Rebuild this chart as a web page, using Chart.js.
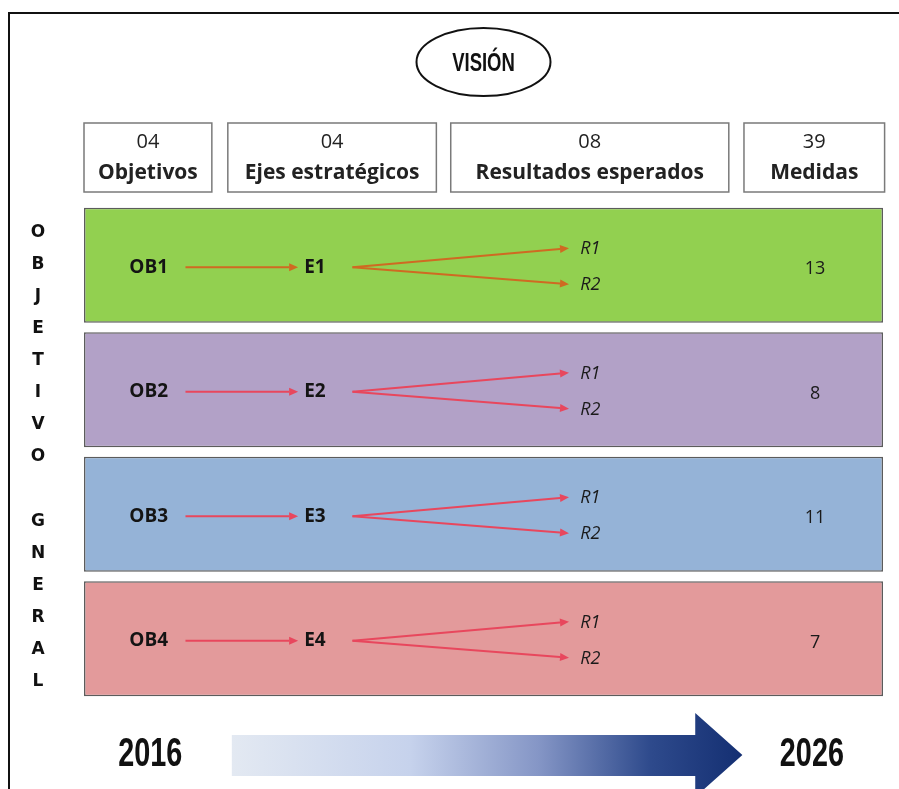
<!DOCTYPE html>
<html>
<head>
<meta charset="utf-8">
<script src="https://cdn.jsdelivr.net/npm/chart.js@4/dist/chart.umd.min.js"></script>
<style>
  html, body { margin:0; padding:0; background:#fff; }
  canvas { display:block; }
</style>
</head>
<body>
<canvas id="plan" width="899" height="789"></canvas>
<script>
// --- Data ---
const objetivos = ["OB1","OB2","OB3","OB4"];
const ejes = ["E1","E2","E3","E4"];
const resultados = ["R1","R2"];
const medidas = [13, 8, 11, 7];
const headCounts = ["04","04","08","39"];
const headLabels = ["Objetivos","Ejes estratégicos","Resultados esperados","Medidas"];
const years = ["2016","2026"];
const sideTitle = "OBJETIVO GNERAL";
const visionLabel = "VISIÓN";

// --- Styles ---
const bandColors = ["#92d050","#b2a1c7","#95b3d7","#e39a9b"];
const arrowColors = ["#cf6a22","#e8475d","#e8475d","#e8475d"];
const headCols = [[0,0.16],[0.18,0.441],[0.459,0.807],[0.826,1.002]];
const SANS = "'Open Sans', sans-serif";

function arrow(ctx, x1, y1, x2, y2, color){
    const ang = Math.atan2(y2-y1, x2-x1), hl = 9, hw = 4;
    ctx.strokeStyle = color; ctx.fillStyle = color; ctx.lineWidth = 2;
    ctx.beginPath();
    ctx.moveTo(x1,y1);
    ctx.lineTo(x2-hl*Math.cos(ang), y2-hl*Math.sin(ang));
    ctx.stroke();
    ctx.beginPath();
    ctx.moveTo(x2,y2);
    ctx.lineTo(x2-hl*Math.cos(ang)+hw*Math.sin(ang), y2-hl*Math.sin(ang)-hw*Math.cos(ang));
    ctx.lineTo(x2-hl*Math.cos(ang)-hw*Math.sin(ang), y2-hl*Math.sin(ang)+hw*Math.cos(ang));
    ctx.closePath();
    ctx.fill();
}

// condensed text: squeeze horizontally around (x,y)
function narrowText(ctx, txt, x, y, sx){
    ctx.save();
    ctx.translate(x, y);
    ctx.scale(sx, 1);
    ctx.fillText(txt, 0, 0);
    ctx.restore();
}

const diagram = {
    id: "diagram",
    afterDatasetsDraw(chart){
        const ctx = chart.ctx, xs = chart.scales.x, ys = chart.scales.y, ca = chart.chartArea;
        const X = v => xs.getPixelForValue(v);
        ctx.save();

        // frame
        ctx.strokeStyle = "#111"; ctx.lineWidth = 2;
        ctx.beginPath();
        ctx.moveTo(9, chart.height); ctx.lineTo(9, 13); ctx.lineTo(chart.width, 13);
        ctx.stroke();

        // vision
        ctx.lineWidth = 2;
        ctx.beginPath();
        ctx.ellipse(X(0.5), ca.top-141, 67, 34, 0, 0, Math.PI*2);
        ctx.stroke();
        ctx.fillStyle = "#111"; ctx.textAlign = "center"; ctx.textBaseline = "middle";
        ctx.font = "bold 25px 'Liberation Sans', sans-serif";
        narrowText(ctx, visionLabel, X(0.5), ca.top-139, 0.74);

        // header boxes
        headLabels.forEach((lab,i) => {
            const x0 = X(headCols[i][0]), x1 = X(headCols[i][1]);
            const top = ca.top-80, bot = ca.top-11;
            ctx.strokeStyle = "#7a7a7a"; ctx.lineWidth = 1.5;
            ctx.strokeRect(x0, top, x1-x0, bot-top);
            ctx.fillStyle = "#222";
            ctx.font = "20px " + SANS;
            ctx.fillText(headCounts[i], (x0+x1)/2, top+19);
            ctx.font = "bold 21px " + SANS;
            ctx.fillText(lab, (x0+x1)/2, top+50);
        });

        // side title
        ctx.fillStyle = "#111";
        ctx.font = "bold 17px 'DejaVu Sans', sans-serif";
        const step = (ys.getPixelForValue(3)-ys.getPixelForValue(0)+76)/(sideTitle.length-1);
        [...sideTitle].forEach((ch,i) => {
            ctx.fillText(ch, 38, ys.getPixelForValue(0)-33+i*step);
        });

        // rows
        objetivos.forEach((ob,i) => {
            const cy = ys.getPixelForValue(i);
            const col = arrowColors[i];
            ctx.fillStyle = "#141414";
            ctx.font = "bold 19px " + SANS;
            ctx.textAlign = "center";
            ctx.fillText(ob, X(0.081), cy+2);
            arrow(ctx, X(0.127), cy+2, X(0.268), cy+2, col);
            ctx.fillStyle = "#141414";
            ctx.fillText(ejes[i], X(0.289), cy+2);
            const ry = [cy-16, cy+20];
            resultados.forEach((r,k) => {
                arrow(ctx, X(0.336), cy+2, X(0.607), ry[k]-1, col);
                ctx.fillStyle = "#1a1a1a";
                ctx.font = "italic 18px " + SANS;
                ctx.textAlign = "left";
                ctx.fillText(r, X(0.621), ry[k]);
            });
            ctx.textAlign = "center";
            ctx.font = "18px " + SANS;
            ctx.fillStyle = "#1a1a1a";
            ctx.fillText(String(medidas[i]), X(0.915), cy+4);
        });

        // time arrow
        const ay = ca.bottom+54, bx0 = X(0.185), bx1 = X(0.765), tip = X(0.824);
        const g = ctx.createLinearGradient(bx0, 0, tip, 0);
        g.addColorStop(0, "#e3e9f2");
        g.addColorStop(0.35, "#c6d2ec");
        g.addColorStop(0.6, "#8596c6");
        g.addColorStop(0.82, "#2e4a8c");
        g.addColorStop(1, "#142f72");
        ctx.fillStyle = g;
        ctx.beginPath();
        ctx.moveTo(bx0, ay-20); ctx.lineTo(bx1, ay-20); ctx.lineTo(bx1, ay-42);
        ctx.lineTo(tip, ay); ctx.lineTo(bx1, ay+42); ctx.lineTo(bx1, ay+21);
        ctx.lineTo(bx0, ay+21); ctx.closePath();
        ctx.fill();

        ctx.fillStyle = "#111";
        ctx.font = "bold 40px 'Liberation Sans', sans-serif";
        ctx.textAlign = "center";
        narrowText(ctx, years[0], X(0.083), ay, 0.72);
        narrowText(ctx, years[1], X(0.911), ay, 0.72);
        ctx.restore();
    }
};

new Chart(document.getElementById("plan"), {
    type: "bar",
    data: {
        labels: objetivos,
        datasets: [{
            data: objetivos.map(() => [0, 1]),
            backgroundColor: bandColors,
            borderColor: "#5c5c5c",
            borderWidth: 1.5,
            borderSkipped: false,
            categoryPercentage: 1,
            barPercentage: 0.922
        }]
    },
    options: {
        indexAxis: "y",
        responsive: false,
        animation: false,
        layout: { padding: { left: 84, right: 16, top: 203, bottom: 88 } },
        scales: {
            x: { type: "linear", min: 0, max: 1, display: false },
            y: { display: false }
        },
        plugins: { legend: { display: false }, tooltip: { enabled: false } }
    },
    plugins: [diagram]
});
</script>
</body>
</html>
